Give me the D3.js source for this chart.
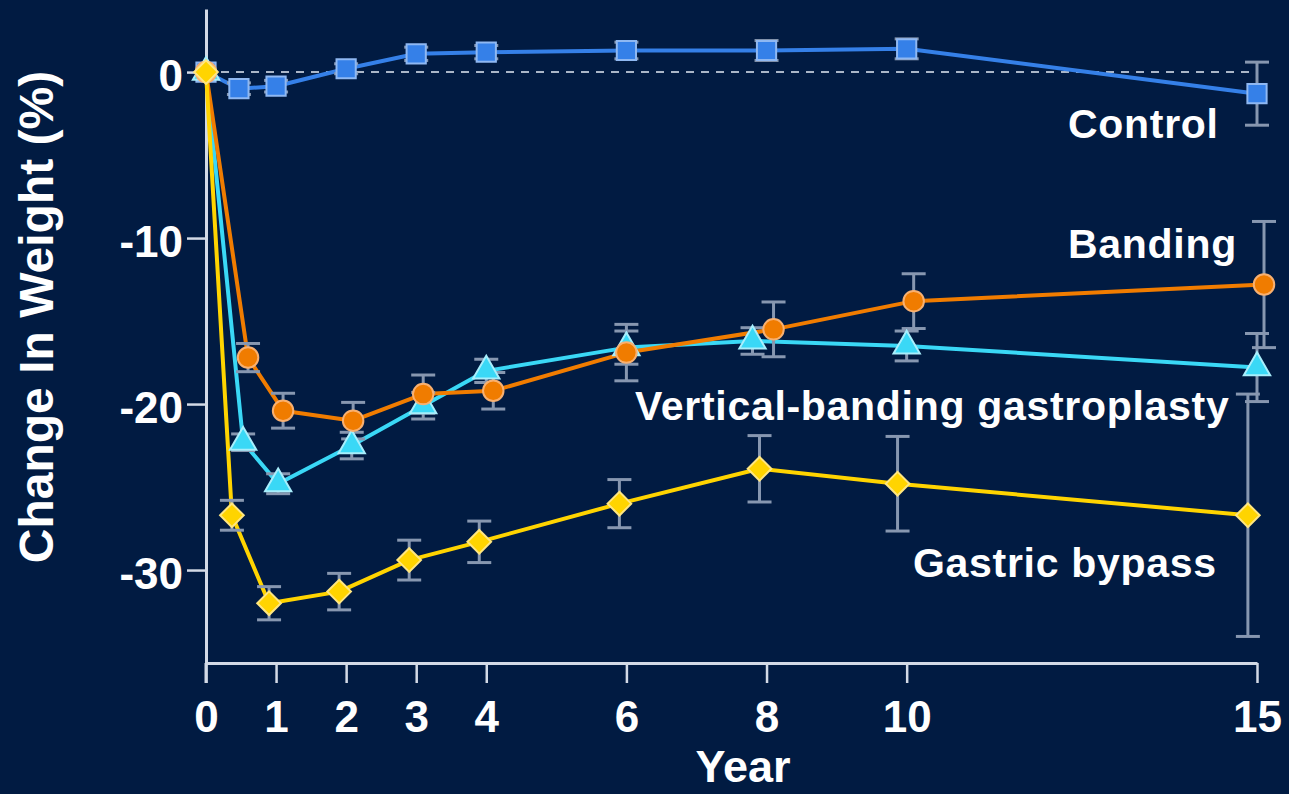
<!DOCTYPE html>
<html>
<head>
<meta charset="utf-8">
<script src="https://cdn.jsdelivr.net/npm/d3@7/dist/d3.min.js"></script>
<style>
  html, body { margin: 0; padding: 0; background: #011b42; }
  svg { display: block; }
  text { font-family: "Liberation Sans", Arial, sans-serif; font-weight: bold; fill: #ffffff; }
</style>
</head>
<body>
<svg id="chart" width="1289" height="794"></svg>
<script>
// Years of follow-up and mean weight change (%) per surgical group, with error bars
const xTicks = [0, 1, 2, 3, 4, 6, 8, 10, 15];
const yTicks = [0, -10, -20, -30];

const controlYears = [0, 0.47, 1, 2, 3, 4, 6, 8, 10, 15];
const controlValues = [0, -1.0, -0.85, 0.2, 1.1, 1.2, 1.3, 1.3, 1.4, -1.3];
const controlErrors = [0, 0.35, 0.35, 0.3, 0.4, 0.4, 0.5, 0.6, 0.6, 1.9];

const bandingYears = [0, 0.6, 1.1, 2.1, 3.1, 4.1, 6.0, 8.1, 10.1, 15.1];
const bandingValues = [0, -17.2, -20.4, -21.0, -19.4, -19.2, -16.9, -15.5, -13.8, -12.8];
const bandingErrors = [0, 0.85, 1.05, 1.1, 1.15, 1.1, 1.7, 1.65, 1.65, 3.8];

const vbgYears = [0, 0.53, 1.03, 2.08, 3.1, 4.0, 6.0, 7.8, 10.0, 15.0];
const vbgValues = [0, -22.3, -24.8, -22.5, -20.1, -18.0, -16.6, -16.2, -16.5, -17.8];
const vbgErrors = [0, 0.5, 0.6, 0.8, 0.8, 0.7, 1.0, 0.8, 0.9, 2.05];

const bypassYears = [0, 0.37, 0.9, 1.9, 2.9, 3.9, 5.9, 7.9, 9.87, 14.87];
const bypassValues = [0, -26.7, -32.0, -31.3, -29.4, -28.3, -26.0, -23.9, -24.8, -26.7];
const bypassErrors = [0, 0.9, 1.0, 1.1, 1.2, 1.25, 1.45, 2.0, 2.85, 7.3];

const seriesNames = ["Control", "Banding", "Vertical-banding gastroplasty", "Gastric bypass"];

const svg = d3.select("#chart");
const W = 1289, H = 794;
svg.append("rect").attr("width", W).attr("height", H).attr("fill", "#011b42");

const x = d3.scaleLinear().domain([0, 15]).range([206, 1257]);
const y = d3.scaleLinear().domain([-35.6, 3.8]).range([663, 9]);

const axisColor = "#d3dae6";

// X axis
const xAxis = svg.append("g").attr("transform", `translate(0,${y(-35.6)})`)
  .call(d3.axisBottom(x).tickValues(xTicks).tickSize(20).tickPadding(0).tickSizeOuter(0).tickFormat(d3.format("d")));
xAxis.select(".domain").attr("stroke", axisColor).attr("stroke-width", 3);
xAxis.selectAll(".tick line").attr("stroke", axisColor).attr("stroke-width", 2.5);
xAxis.selectAll(".tick text").attr("fill", "#fff").attr("font-size", 44).attr("font-weight", "bold")
  .attr("font-family", "Liberation Sans, Arial, sans-serif").attr("dy", null).attr("y", 69);

// Y axis
const yAxis = svg.append("g").attr("transform", `translate(${x(0)},0)`)
  .call(d3.axisLeft(y).tickValues(yTicks).tickSize(19).tickPadding(4).tickSizeOuter(0).tickFormat(d => String(d)));
yAxis.select(".domain").attr("stroke", axisColor).attr("stroke-width", 3);
yAxis.selectAll(".tick line").attr("stroke", axisColor).attr("stroke-width", 2.5);
yAxis.selectAll(".tick text").attr("fill", "#fff").attr("font-size", 44).attr("font-weight", "bold")
  .attr("font-family", "Liberation Sans, Arial, sans-serif").attr("dy", null).attr("y", 18);
// vertical axis continues down to the x-axis tick length
svg.append("line").attr("x1", x(0)).attr("x2", x(0)).attr("y1", y(-35.6)).attr("y2", y(-35.6) + 20)
  .attr("stroke", axisColor).attr("stroke-width", 3);

// Zero reference line
svg.append("line").attr("x1", x(0)).attr("x2", x(15)).attr("y1", y(0)).attr("y2", y(0))
  .attr("stroke", "#aab6c8").attr("stroke-width", 2).attr("stroke-dasharray", "8,7");

// Axis titles
svg.append("text").attr("x", 743).attr("y", 782).attr("text-anchor", "middle")
  .attr("font-size", 45).text("Year");
svg.append("text").attr("transform", "translate(53,317) rotate(-90)").attr("text-anchor", "middle")
  .attr("font-size", 48).text("Change In Weight (%)");

const series = [
  { name: seriesNames[0], xs: controlYears, ys: controlValues, es: controlErrors, color: "#3580e8", edge: "#8fb8f2", shape: "square" },
  { name: seriesNames[2], xs: vbgYears, ys: vbgValues, es: vbgErrors, color: "#3ad8f6", edge: "#a8eefc", shape: "triangle" },
  { name: seriesNames[1], xs: bandingYears, ys: bandingValues, es: bandingErrors, color: "#f07c00", edge: "#f8b070", shape: "circle" },
  { name: seriesNames[3], xs: bypassYears, ys: bypassValues, es: bypassErrors, color: "#ffd400", edge: "#ffe680", shape: "diamond" }
];

const line = d3.line().x(d => x(d[0])).y(d => y(d[1]));
const errColor = "#8797b0";

series.forEach(s => {
  const pts = s.xs.map((xv, i) => [xv, s.ys[i], s.es[i]]);
  svg.append("path").datum(pts).attr("d", line).attr("fill", "none")
    .attr("stroke", s.color).attr("stroke-width", 4).attr("stroke-linejoin", "round");
});

series.forEach(s => {
  const pts = s.xs.map((xv, i) => [xv, s.ys[i], s.es[i]]).filter(p => p[2] > 0);
  const g = svg.append("g").attr("stroke", errColor).attr("stroke-width", 3);
  pts.forEach(p => {
    g.append("line").attr("x1", x(p[0])).attr("x2", x(p[0])).attr("y1", y(p[1] + p[2])).attr("y2", y(p[1] - p[2]));
    g.append("line").attr("x1", x(p[0]) - 12).attr("x2", x(p[0]) + 12).attr("y1", y(p[1] + p[2])).attr("y2", y(p[1] + p[2]));
    g.append("line").attr("x1", x(p[0]) - 12).attr("x2", x(p[0]) + 12).attr("y1", y(p[1] - p[2])).attr("y2", y(p[1] - p[2]));
  });
});

// square turned 45 degrees (equal width and height)
const squareDiamond = {
  draw(context, size) {
    const h = Math.sqrt(size / 2);
    context.moveTo(0, -h);
    context.lineTo(h, 0);
    context.lineTo(0, h);
    context.lineTo(-h, 0);
    context.closePath();
  }
};

const symbolFor = {
  square: d3.symbol().type(d3.symbolSquare).size(370),
  circle: d3.symbol().type(d3.symbolCircle).size(330),
  triangle: d3.symbol().type(d3.symbolTriangle).size(300),
  diamond: d3.symbol().type(squareDiamond).size(280)
};

series.forEach(s => {
  const pts = s.xs.map((xv, i) => [xv, s.ys[i]]);
  svg.append("g").selectAll("path").data(pts).join("path")
    .attr("d", symbolFor[s.shape])
    .attr("transform", d => `translate(${x(d[0])},${y(d[1])})`)
    .attr("fill", s.color).attr("stroke", s.edge).attr("stroke-width", 2);
});

// Series labels
const labels = [
  { text: seriesNames[0], x: 1068, y: 138 },
  { text: seriesNames[1], x: 1068, y: 258 },
  { text: seriesNames[2], x: 635, y: 420 },
  { text: seriesNames[3], x: 913, y: 577 }
];
svg.append("g").selectAll("text").data(labels).join("text")
  .attr("x", d => d.x).attr("y", d => d.y).attr("font-size", 41)
  .attr("letter-spacing", 0.7).text(d => d.text);
</script>
</body>
</html>
